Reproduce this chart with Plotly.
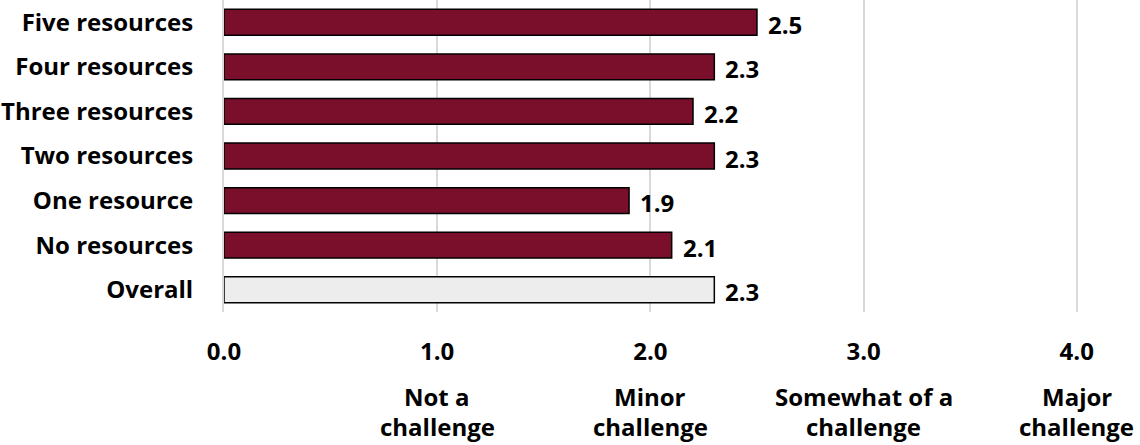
import plotly.graph_objects as go

categories = ["Five resources", "Four resources", "Three resources", "Two resources",
              "One resource", "No resources", "Overall"]
values = [2.5, 2.3, 2.2, 2.3, 1.9, 2.1, 2.3]
colors = ["#7A0F2B"] * 6 + ["#EDEDED"]
tick_vals = [0, 1, 2, 3, 4]
tick_text = ["0.0", "1.0", "2.0", "3.0", "4.0"]
scale_vals = [1, 2, 3, 4]
scale_text = ["Not a<br>challenge", "Minor<br>challenge", "Somewhat of a<br>challenge", "Major<br>challenge"]

FONT = "Open Sans"
def f(size=24):
    return dict(family=FONT, size=size, color="#000000", weight="bold")

fig = go.Figure()
fig.add_trace(go.Bar(
    y=categories, x=values, orientation="h",
    marker=dict(color=colors, line=dict(color="#000000", width=1.5)),
    hoverinfo="skip",
))

for v, c in zip(values, categories):
    fig.add_annotation(x=v, y=c, xref="x", yref="y", text=f"{v:.1f}", showarrow=False,
                       xanchor="left", xshift=9, yshift=-2, font=f())

for v, t in zip(scale_vals, scale_text):
    for i, line in enumerate(t.split("<br>")):
        fig.add_annotation(x=v, y=0, xref="x", yref="paper", text=line, showarrow=False,
                           xanchor="center", yanchor="top", yshift=-66 - 30 * i,
                           font=f(), align="center")

fig.update_layout(
    width=1140, height=445,
    margin=dict(l=224, r=59, t=0, b=133, autoexpand=False),
    paper_bgcolor="white", plot_bgcolor="white",
    showlegend=False,
    bargap=0.42,
    font=f(),
    xaxis=dict(range=[0, 4.02], tickvals=tick_vals, ticktext=tick_text,
               showgrid=True, gridcolor="#D9D9D9", gridwidth=1.5,
               zeroline=False, showline=False, ticks="",
               ticklabelstandoff=23, automargin=False,
               tickfont=f()),
    yaxis=dict(categoryorder="array", categoryarray=categories[::-1],
               showline=True, linecolor="#D9D9D9", linewidth=2,
               showgrid=False, ticks="", ticklabelstandoff=24, automargin=False,
               tickfont=f()),
)

fig.write_html("out.html", config={"displayModeBar": False},
               post_script="document.body.style.margin='0px';document.body.style.overflow='hidden';")
